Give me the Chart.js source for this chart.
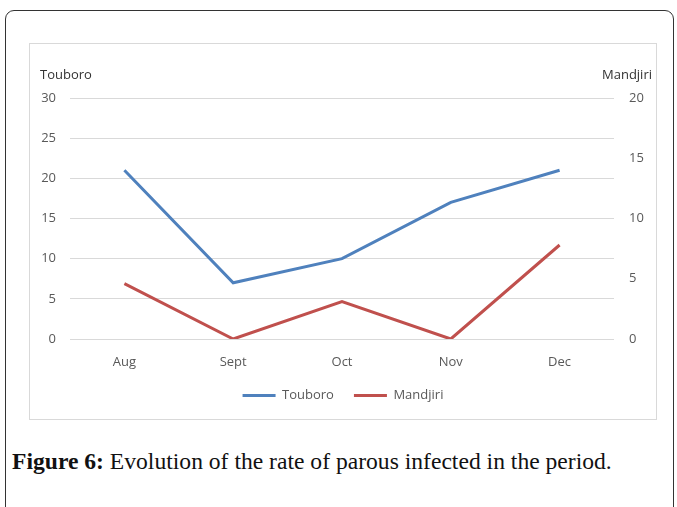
<!DOCTYPE html>
<html>
<head>
<meta charset="utf-8">
<script src="https://cdn.jsdelivr.net/npm/chart.js@4"></script>
<style>
  body { margin: 0; background: #fff; width: 677px; height: 507px; overflow: hidden; position: relative; }
  #frame { position: absolute; left: 5px; top: 10px; width: 667px; height: 520px; border: 1px solid #333; border-radius: 9px; }
  #box { position: absolute; left: 29px; top: 43px; width: 626px; height: 375px; border: 1px solid #d9d9d9; }
  #chart { display: block; }
  #caption { position: absolute; left: 12px; top: 448px; font-family: "Liberation Serif", serif; font-size: 23.6px; color: #111; white-space: nowrap; }
  #caption b { font-weight: bold; }
</style>
</head>
<body>
<div id="frame"></div>
<div id="box"><canvas id="chart" width="626" height="375"></canvas></div>
<div id="caption"><b>Figure 6:</b> Evolution of the rate of parous infected in the period.</div>
<script>
let months = ['Aug', 'Sept', 'Oct', 'Nov', 'Dec'];
let touboro = [21, 7, 10, 17, 21];
let mandjiri = [4.6, 0, 3.1, 0, 7.8];
let leftTicks = [0, 5, 10, 15, 20, 25, 30];
let rightTicks = [0, 5, 10, 15, 20];

let font = { family: '"Open Sans", sans-serif', size: 13 };

// axis names sit horizontally above each value axis
let axisNames = {
    id: 'axisNames',
    afterDraw(chart) {
        let c = chart.ctx;
        let top = chart.chartArea.top - 23;
        c.save();
        c.font = '13px "Open Sans", sans-serif';
        c.fillStyle = '#333';
        c.textBaseline = 'middle';
        c.textAlign = 'left';
        c.fillText('Touboro', 10, top);
        c.textAlign = 'right';
        c.fillText('Mandjiri', chart.width - 4, top);
        c.restore();
    }
};

new Chart(document.getElementById('chart'), {
    type: 'line',
    data: {
        labels: months,
        datasets: [{
            label: 'Touboro',
            data: touboro,
            yAxisID: 'y',
            borderColor: '#4f81bd',
            backgroundColor: '#4f81bd',
            borderWidth: 3,
            pointRadius: 0,
            tension: 0
        }, {
            label: 'Mandjiri',
            data: mandjiri,
            yAxisID: 'y1',
            borderColor: '#c0504d',
            backgroundColor: '#c0504d',
            borderWidth: 3,
            pointRadius: 0,
            tension: 0
        }]
    },
    options: {
        responsive: false,
        animation: false,
        layout: { padding: { top: 54, left: 0, right: 0, bottom: 7 } },
        plugins: {
            tooltip: { enabled: false },
            legend: {
                position: 'bottom',
                labels: {
                    usePointStyle: true,
                    pointStyle: 'line',
                    pointStyleWidth: 33,
                    padding: 20,
                    color: '#595959',
                    font: font
                }
            }
        },
        scales: {
            x: {
                offset: true,
                grid: { display: false, drawTicks: false },
                border: { display: false },
                ticks: { color: '#595959', font: font, padding: 15 },
                afterFit: function (scale) { scale.height = 30; }
            },
            y: {
                position: 'left',
                min: 0,
                max: 30,
                afterBuildTicks: function (scale) { scale.ticks = leftTicks.map(v => ({ value: v })); },
                grid: { color: '#d9d9d9', drawTicks: false },
                border: { display: false },
                ticks: { color: '#595959', font: font, padding: 14 },
                afterFit: function (scale) { scale.width = 40; }
            },
            y1: {
                position: 'right',
                min: 0,
                max: 20,
                afterBuildTicks: function (scale) { scale.ticks = rightTicks.map(v => ({ value: v })); },
                grid: { display: false, drawTicks: false },
                border: { display: false },
                ticks: { color: '#595959', font: font, padding: 15 },
                afterFit: function (scale) { scale.width = 42; }
            }
        }
    },
    plugins: [axisNames]
});
</script>
</body>
</html>
